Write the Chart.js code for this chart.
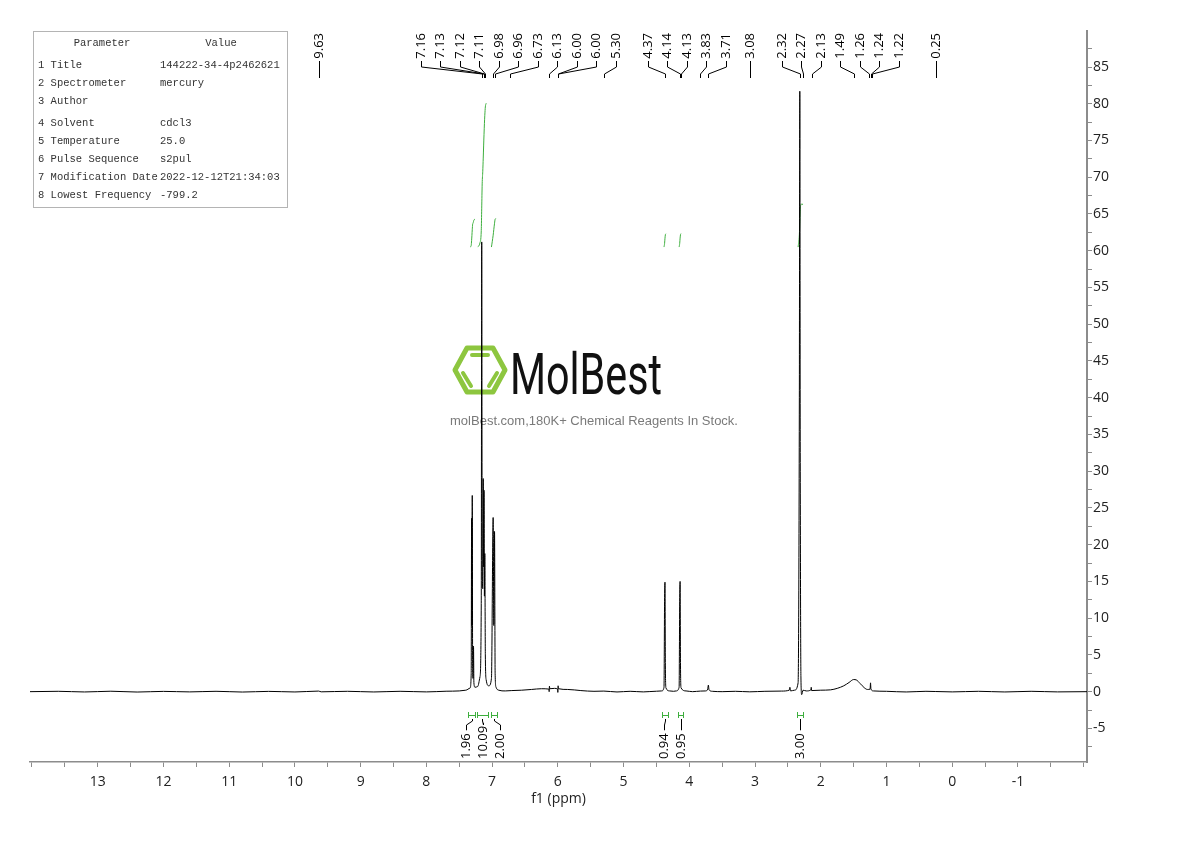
<!DOCTYPE html>
<html>
<head>
<meta charset="utf-8">
<script src="https://cdn.jsdelivr.net/npm/chart.js@4.4.0/dist/chart.umd.min.js"></script>
<style>
  html, body { margin: 0; padding: 0; background: #fff; }
  #wrap { width: 1190px; height: 841px; }
</style>
</head>
<body>
<div id="wrap"><canvas id="nmr" width="1190" height="841"></canvas></div>
<script>
// spectrum (ppm, intensity)
const shiftPpm = [
  14.03, 13.6, 13.2, 12.8, 12.4, 12.0, 11.6, 11.2, 10.8, 10.4, 10.0, 9.64, 9.6, 9.2, 8.8, 8.4, 8.0, 7.7, 7.5, 7.4,
  7.335, 7.318, 7.312, 7.307, 7.302, 7.296, 7.29, 7.283, 7.277, 7.26, 7.22, 7.185, 7.165, 7.158, 7.151, 7.142,
  7.135, 7.129, 7.123, 7.117, 7.111, 7.103, 7.09, 7.05, 7.01, 6.984, 6.974, 6.963, 6.954, 6.94, 6.9, 6.8, 6.7,
  6.55, 6.4, 6.25, 6.136, 6.132, 6.128, 6.122, 6.05, 6.004, 6.0, 5.996, 5.99, 5.85, 5.65, 5.45, 5.3, 5.1, 4.9,
  4.7, 4.5, 4.42, 4.385, 4.376, 4.37, 4.364, 4.355, 4.3, 4.24, 4.2, 4.155, 4.146, 4.14, 4.134, 4.125, 4.05, 3.95,
  3.83, 3.75, 3.72, 3.71, 3.7, 3.65, 3.5, 3.3, 3.08, 2.85, 2.6, 2.48, 2.47, 2.46, 2.4, 2.345, 2.326, 2.319, 2.312,
  2.302, 2.29, 2.27, 2.22, 2.15, 2.145, 2.14, 2.0, 1.85, 1.75, 1.65, 1.57, 1.5, 1.46, 1.4, 1.34, 1.29, 1.25,
  1.243, 1.237, 1.2, 1.0, 0.7, 0.4, 0.25, 0.0, -0.4, -0.8, -1.2, -1.6, -2.05
];
const intensity = [
  0, 0.05, -0.04, 0.06, -0.05, 0.04, -0.03, 0.05, -0.05, 0.04, -0.04, 0.08, -0.02, 0.05, -0.04, 0.05, -0.03, 0.06, 0.1, 0.2,
  0.5, 2.5, 23.6, 9, 26.7, 3, 1.8, 6.2, 1.2, 0.6, 0.7, 2, 12, 61.2, 18, 14,
  29, 17, 27.4, 13, 18.8, 5, 1.6, 0.8, 1.8, 23.7, 9, 21.8, 2.5, 0.6, 0.2, 0.1, 0.15,
  0.2, 0.3, 0.4, 0.35, 0.0, 0.75, 0.4, 0.45, 0.35, -0.1, 0.8, 0.4, 0.3, 0.15, 0.05, 0.08, -0.04, 0.05,
  -0.03, 0.06, 0.1, 0.6, 12.8, 14.9, 3.5, 0.5, 0.1, 0.05, 0.1, 0.6, 12.8, 15.0, 3.5, 0.5, 0.1, 0.0,
  0.08, 0.1, 0.35, 0.9, 0.25, 0.05, 0.0, 0.05, -0.02, 0.05, 0.08, 0.2, 0.6, 0.1, 0.2, 1.2, 40, 81.7, 30,
  2, -0.4, 0.2, 0.1, 0.25, 0.6, 0.15, 0.2, 0.25, 0.45, 0.8, 1.25, 1.65, 1.6, 1.1, 0.55, 0.3, 0.35,
  1.2, 0.35, 0.1, 0.05, -0.04, 0.05, 0.02, -0.03, 0.05, -0.04, 0.05, -0.03, 0
];

const peakLabels = [9.63, 7.16, 7.13, 7.12, 7.11, 6.98, 6.96, 6.73, 6.13, 6.00, 6.00, 5.30, 4.37,
  4.14, 4.13, 3.83, 3.71, 3.08, 2.32, 2.27, 2.13, 1.49, 1.26, 1.24, 1.22, 0.25];

const integralFrom = [7.36, 7.23, 7.02, 4.41, 4.17, 2.36];
const integralTo = [7.26, 7.07, 6.93, 4.33, 4.09, 2.27];
const integralValues = [1.96, 10.09, 2.00, 0.94, 0.95, 3.00];

const paramNames = ['1 Title', '2 Spectrometer', '3 Author', '4 Solvent', '5 Temperature',
  '6 Pulse Sequence', '7 Modification Date', '8 Lowest Frequency'];
const paramValues = ['144222-34-4p2462621', 'mercury', '', 'cdcl3', '25.0', 's2pul',
  '2022-12-12T21:34:03', '-799.2'];

const INTEGRAL_BASE = 60.5;
const INTEGRAL_SCALE = 1.94;
const GREEN = '#3dae3d';
const AXIS_GREY = '#8c8c8c';

function integralCurve(from, to, total) {
  const pts = [];
  let acc = 0;
  let prevP = null, prevV = null;
  shiftPpm.forEach((p, i) => {
    if (p > from || p < to) return;
    if (prevP !== null) acc += (prevP - p) * (prevV + intensity[i]) / 2;
    pts.push({ p, acc });
    prevP = p; prevV = intensity[i];
  });
  const end = acc || 1;
  return pts.map(q => ({ x: q.p, y: INTEGRAL_BASE + q.acc / end * total * INTEGRAL_SCALE }));
}

// push overlapping labels apart, centred on their targets
function spreadLabels(targets, gap) {
  let groups = targets.map((t, i) => ({ items: [i], sum: t }));
  let merged = true;
  while (merged) {
    merged = false;
    for (let k = 0; k < groups.length - 1; k++) {
      const a = groups[k], b = groups[k + 1];
      const aEnd = a.sum / a.items.length + (a.items.length - 1) * gap / 2;
      const bStart = b.sum / b.items.length - (b.items.length - 1) * gap / 2;
      if (bStart - aEnd < gap) {
        groups.splice(k, 2, { items: a.items.concat(b.items), sum: a.sum + b.sum });
        merged = true;
        break;
      }
    }
  }
  const pos = [];
  groups.forEach(g => {
    const n = g.items.length;
    const start = g.sum / n - (n - 1) * gap / 2;
    g.items.forEach((idx, j) => { pos[idx] = start + j * gap; });
  });
  return pos;
}

const watermark = {
  id: 'watermark',
  beforeDatasetsDraw(chart) {
    const ctx = chart.ctx;
    ctx.save();
    ctx.strokeStyle = '#8dc63f';
    ctx.lineJoin = 'round';
    ctx.lineCap = 'round';
    ctx.lineWidth = 5;
    ctx.beginPath();
    ctx.moveTo(455, 370); ctx.lineTo(467, 348); ctx.lineTo(493, 348);
    ctx.lineTo(505, 370); ctx.lineTo(493, 392); ctx.lineTo(467, 392); ctx.closePath();
    ctx.stroke();
    ctx.lineWidth = 4;
    ctx.beginPath();
    ctx.moveTo(472, 355); ctx.lineTo(488, 355);
    ctx.moveTo(463, 373); ctx.lineTo(471, 386);
    ctx.moveTo(497, 373); ctx.lineTo(489, 386);
    ctx.stroke();

    ctx.fillStyle = '#111';
    ctx.font = '58px Roboto';
    const w = ctx.measureText('MolBest').width;
    ctx.translate(510, 394);
    ctx.scale(152 / w, 1);
    ctx.textBaseline = 'alphabetic';
    ctx.fillText('MolBest', 0, 0);
    ctx.restore();

    ctx.save();
    ctx.fillStyle = '#7a7a7a';
    ctx.font = '13px "Liberation Sans"';
    ctx.textAlign = 'center';
    ctx.textBaseline = 'middle';
    ctx.fillText('molBest.com,180K+ Chemical Reagents In Stock.', 594, 421);
    ctx.restore();
  }
};

const annotations = {
  id: 'annotations',
  afterDraw(chart) {
    const ctx = chart.ctx;
    const xs = chart.scales.x;

    // parameter table
    ctx.save();
    ctx.strokeStyle = '#b4b4b4';
    ctx.lineWidth = 1;
    ctx.strokeRect(33.5, 31.5, 254, 176);
    ctx.fillStyle = '#333';
    ctx.font = '10.5px "Liberation Mono"';
    ctx.textBaseline = 'middle';
    ctx.textAlign = 'center';
    ctx.fillText('Parameter', 102, 43);
    ctx.fillText('Value', 221, 43);
    ctx.textAlign = 'left';
    paramNames.forEach((name, i) => {
      const y = 65 + i * 18 + (i >= 3 ? 4 : 0);
      ctx.fillText(name, 38, y);
      ctx.fillText(paramValues[i], 160, y);
    });
    ctx.restore();

    // peak picking labels
    const targets = peakLabels.map(p => xs.getPixelForValue(p));
    const pos = spreadLabels(targets, 19.5);
    ctx.save();
    ctx.strokeStyle = '#000';
    ctx.fillStyle = '#000';
    ctx.lineWidth = 1;
    ctx.font = '13px "Open Sans"';
    targets.forEach((tx, i) => {
      const lx = Math.round(pos[i]) + 0.5;
      const t = Math.round(tx) + 0.5;
      ctx.beginPath();
      ctx.moveTo(lx, 61); ctx.lineTo(lx, 67); ctx.lineTo(t, 74); ctx.lineTo(t, 78);
      ctx.stroke();
      ctx.save();
      ctx.translate(lx, 33);
      ctx.rotate(-Math.PI / 2);
      ctx.textAlign = 'right';
      ctx.textBaseline = 'middle';
      ctx.fillText(peakLabels[i].toFixed(2), 0, 0);
      ctx.restore();
    });
    ctx.restore();

    // integration marks and values
    const centres = integralFrom.map((f, i) =>
      (xs.getPixelForValue(f) + xs.getPixelForValue(integralTo[i])) / 2);
    const ipos = spreadLabels(centres, 17);
    ctx.save();
    ctx.lineWidth = 1;
    ctx.font = '13px "Open Sans"';
    integralFrom.forEach((f, i) => {
      const x1 = Math.round(xs.getPixelForValue(f)) + 0.5;
      const x2 = Math.round(xs.getPixelForValue(integralTo[i])) + 0.5;
      ctx.strokeStyle = GREEN;
      ctx.beginPath();
      ctx.moveTo(x1, 712); ctx.lineTo(x1, 718);
      ctx.moveTo(x1, 715.5); ctx.lineTo(x2, 715.5);
      ctx.moveTo(x2, 712); ctx.lineTo(x2, 718);
      ctx.stroke();
      const text = integralValues[i].toFixed(2);
      const tw = ctx.measureText(text).width;
      const lx = Math.round(ipos[i]) + 0.5;
      const c = Math.round(centres[i]) + 0.5;
      ctx.strokeStyle = '#000';
      ctx.beginPath();
      ctx.moveTo(c, 719); ctx.lineTo(c, 721); ctx.lineTo(lx, 725); ctx.lineTo(lx, 758 - tw - 2);
      ctx.stroke();
      ctx.save();
      ctx.fillStyle = '#000';
      ctx.translate(lx, 759);
      ctx.rotate(-Math.PI / 2);
      ctx.textAlign = 'left';
      ctx.textBaseline = 'middle';
      ctx.fillText(text, 0, 0);
      ctx.restore();
    });
    ctx.restore();

    // x axis title
    ctx.save();
    ctx.fillStyle = '#222';
    ctx.font = '14px "Open Sans"';
    ctx.textAlign = 'center';
    ctx.textBaseline = 'middle';
    ctx.fillText('f1 (ppm)', (chart.chartArea.left + chart.chartArea.right) / 2, 799);
    ctx.restore();
  }
};

const spectrum = shiftPpm.map((p, i) => ({ x: p, y: intensity[i] }));
const integralSets = integralFrom.map((f, i) => ({
  data: integralCurve(f, integralTo[i], integralValues[i]),
  borderColor: GREEN,
  borderWidth: 1,
  pointRadius: 0,
  cubicInterpolationMode: 'monotone',
  fill: false
}));

new Chart(document.getElementById('nmr').getContext('2d'), {
  type: 'line',
  data: {
    datasets: [{
      data: spectrum,
      borderColor: '#000',
      borderWidth: 1,
      pointRadius: 0,
      cubicInterpolationMode: 'monotone',
      fill: false
    }].concat(integralSets)
  },
  options: {
    responsive: false,
    animation: false,
    events: [],
    layout: { padding: { top: 31, left: 30, right: 0, bottom: 0 } },
    plugins: { legend: { display: false }, tooltip: { enabled: false } },
    scales: {
      x: {
        type: 'linear',
        reverse: true,
        min: -2.05,
        max: 14.03,
        border: { display: true, color: AXIS_GREY, width: 1.5 },
        grid: { drawOnChartArea: false, drawTicks: true, tickLength: 5, color: AXIS_GREY },
        ticks: {
          stepSize: 0.5,
          includeBounds: false,
          autoSkip: false,
          maxRotation: 0,
          padding: 7,
          color: '#222',
          font: { family: 'Open Sans', size: 14 },
          // whole ppm only, and none right at the ends of the axis
          callback: function (v) {
            const whole = Math.abs(v - Math.round(v)) < 1e-6;
            const inside = v < this.max - 0.5 && v > this.min + 0.5;
            return whole && inside ? String(Math.round(v)) : '';
          }
        },
        afterFit: s => { s.height = 79; }
      },
      y: {
        type: 'linear',
        position: 'right',
        min: -9.57,
        max: 89.9,
        border: { display: true, color: AXIS_GREY, width: 2 },
        grid: { drawOnChartArea: false, drawTicks: true, tickLength: 5, color: AXIS_GREY },
        ticks: {
          stepSize: 2.5,
          includeBounds: false,
          autoSkip: false,
          padding: 1,
          color: '#222',
          font: { family: 'Open Sans', size: 14 },
          callback: v => (Math.abs(v / 5 - Math.round(v / 5)) < 1e-6 ? String(Math.round(v)) : '')
        },
        afterFit: s => { s.width = 103; }
      }
    }
  },
  plugins: [watermark, annotations]
});
</script>
</body>
</html>
